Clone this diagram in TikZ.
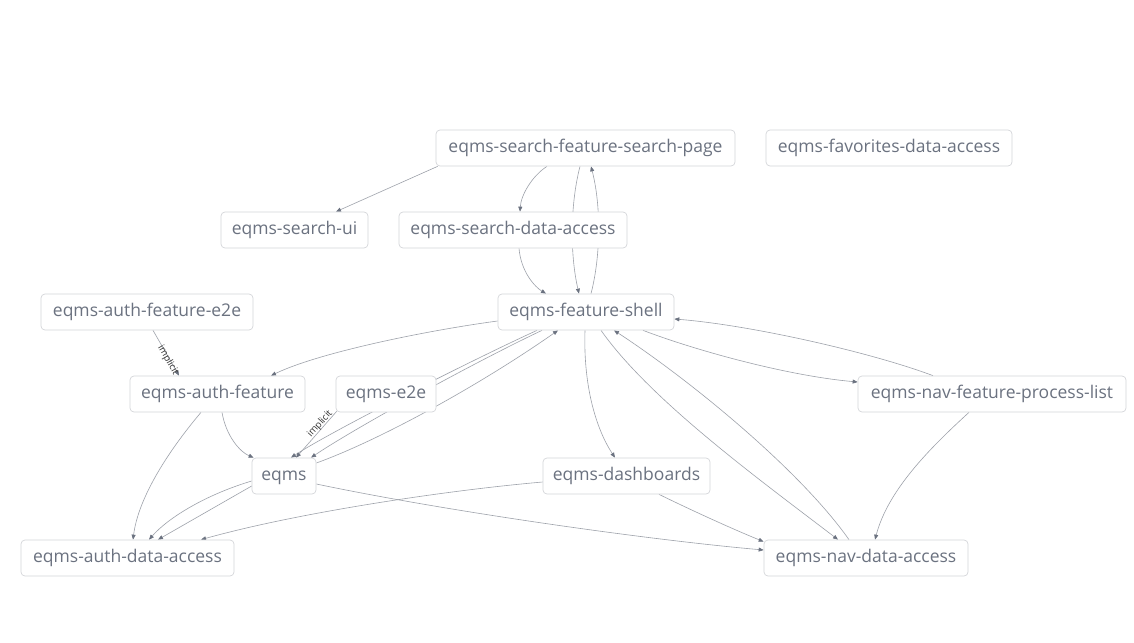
\documentclass[tikz,border=0pt]{standalone}
\usepackage{fontspec}
\setmainfont{Open Sans}
\usetikzlibrary{arrows.meta,calc}
\pgfdeclarelayer{background}
\pgfsetlayers{background,main}
\definecolor{txtc}{HTML}{6B7280}
\definecolor{boxc}{HTML}{D4D6DA}
\definecolor{edgec}{HTML}{9EA2AA}
\definecolor{arrc}{HTML}{6B7280}
\definecolor{lblc}{HTML}{333333}
\tikzset{
  proj/.style={draw=boxc, line width=0.7pt, fill=white, rounded corners=4pt,
    text=txtc, font=\fontsize{17.5}{20}\selectfont, inner sep=0pt,
    text height=13.5pt, text depth=4.5pt, minimum height=36pt},
  edge/.style={draw=edgec, line width=0.6pt,
    -{Triangle[length=5pt,width=4pt,color=arrc,fill=arrc]}},
  implbl/.style={text=lblc, font=\fontsize{9.5}{10}\selectfont, inner sep=0pt}
}
\begin{document}
\begin{tikzpicture}[x=1pt,y=-1pt]
\begin{pgfonlayer}{background}
\fill[white] (0,0) rectangle (1134,642);
\end{pgfonlayer}
\useasboundingbox (0,0) rectangle (1134,642);
% nodes
\begin{scope}[every node/.style={proj}]
\node[minimum width=299pt] (sp)    at (585.5,148) {eqms-search-feature-search-page};
\node[minimum width=246pt] (fav)   at (889,148)   {eqms-favorites-data-access};
\node[minimum width=147pt] (sui)   at (294.5,230) {eqms-search-ui};
\node[minimum width=228pt] (sda)   at (513,230)   {eqms-search-data-access};
\node[minimum width=212pt] (afe)   at (147,312)   {eqms-auth-feature-e2e};
\node[minimum width=176pt] (fs)    at (586,312)   {eqms-feature-shell};
\node[minimum width=175pt] (af)    at (217.5,394) {eqms-auth-feature};
\node[minimum width=100pt] (e2e)   at (386,394)   {eqms-e2e};
\node[minimum width=268pt] (npl)   at (992,394)   {eqms-nav-feature-process-list};
\node[minimum width=64pt]  (eqms)  at (284,476)   {eqms};
\node[minimum width=167pt] (dash)  at (626.5,476) {eqms-dashboards};
\node[minimum width=213pt] (ada)   at (127.5,558) {eqms-auth-data-access};
\node[minimum width=204pt] (nda)   at (866,558)   {eqms-nav-data-access};
\end{scope}
% edges (behind the boxes)
\begin{pgfonlayer}{background}
\draw[edge] ($(sp.south west)+(2,0)$) -- ($(sui.north)+(41.5,0)$);
\draw[edge] ($(sp.south)+(-38.5,0)$) .. controls (532,176) and (521,195) .. ($(sda.north)+(7,0)$);
\draw[edge] ($(sp.south)+(-5.5,0)$) .. controls (570,205) and (570,255) .. ($(fs.north)+(-7,0)$);
\draw[edge] ($(fs.north)+(5,0)$) .. controls (601,255) and (601,205) .. ($(sp.south)+(5.5,0)$);
\draw[edge] ($(sda.south)+(6,0)$) .. controls (521,272) and (535,287) .. ($(fs.north)+(-40,0)$);
\draw[edge] ($(afe.south)+(6,0)$) -- ($(af.north)+(-38.5,0)$);
\draw[edge] ($(fs.west)+(0,9)$) .. controls (430,330) and (320,352) .. ($(af.north)+(53.5,0)$);
\draw[edge] ($(fs.south)+(-49,0)$) .. controls (470,361) and (330,432) .. ($(eqms.north)+(7,0)$);
\draw[edge] ($(fs.south)+(-44,0)$) .. controls (475,362) and (355,428) .. ($(eqms.north)+(27,0)$);
\draw[edge] ($(e2e.south west)+(1,-1)$) -- ($(eqms.north)+(12,0)$);
\draw[edge] ($(eqms.east)+(0,-13)$) .. controls (380,440) and (480,385) .. ($(fs.south)+(-28,0)$);
\draw[edge] ($(af.south)+(4.5,0)$) .. controls (226,436) and (240,452) .. ($(eqms.north west)+(2,0)$);
\draw[edge] ($(af.south)+(-16.5,0)$) .. controls (165,455) and (138,500) .. ($(ada.north)+(5.5,0)$);
\draw[edge] ($(eqms.west)+(0,5)$) .. controls (205,495) and (168,518) .. ($(ada.north)+(21.5,0)$);
\draw[edge] ($(eqms.west)+(0,10)$) -- ($(ada.north)+(30.5,0)$);
\draw[edge] ($(dash.west)+(0,6)$) .. controls (450,490) and (300,512) .. ($(ada.north)+(73.5,0)$);
\draw[edge] ($(eqms.east)+(0,8)$) .. controls (450,512) and (650,540) .. ($(nda.west)+(0,-8)$);
\draw[edge] ($(fs.south)+(57,0)$) .. controls (700,352) and (790,376) .. ($(npl.west)+(0,-12)$);
\draw[edge] ($(npl.north)+(-59,0)$) .. controls (870,352) and (750,325) .. ($(fs.east)+(0,7)$);
\draw[edge] ($(fs.south)+(-1,0)$) .. controls (583,390) and (598,432) .. ($(dash.north)+(-11.5,0)$);
\draw[edge] ($(fs.south)+(15,0)$) .. controls (650,400) and (760,480) .. ($(nda.north)+(-28,0)$);
\draw[edge] ($(nda.north)+(-17,0)$) .. controls (800,470) and (690,380) .. ($(fs.south)+(28,0)$);
\draw[edge] ($(npl.south)+(-23,0)$) .. controls (930,448) and (888,490) .. ($(nda.north)+(9,0)$);
\draw[edge] ($(dash.south)+(32.5,0)$) .. controls (695,512) and (735,530) .. ($(nda.north west)+(0,2)$);
\end{pgfonlayer}
% labels
\node[implbl, rotate=-60] (l1) at (168,360) {implicit};
\node[implbl, rotate=48]  (l2) at (320,424) {implicit};
\end{tikzpicture}
\end{document}
